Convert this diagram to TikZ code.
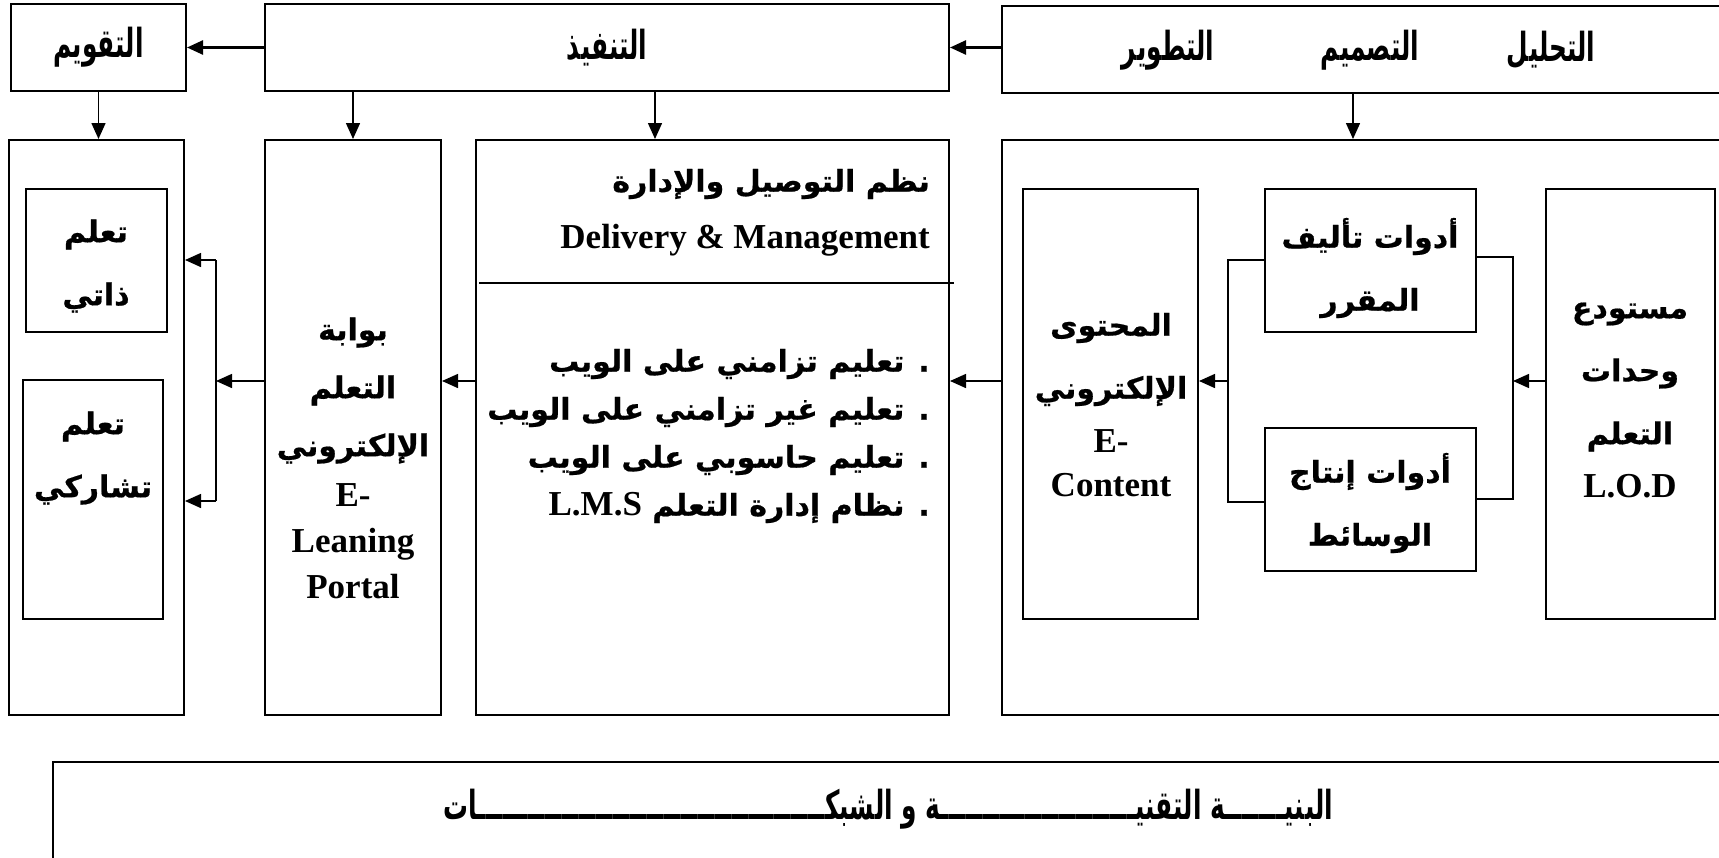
\documentclass[tikz,border=0pt]{standalone}
\usepackage{fontspec}
\setmainfont{Liberation Serif}
\newfontfamily\arabicfont[Script=Arabic,BoldFeatures={FakeBold=0.6}]{DejaVu Sans}
\newfontfamily\arabicnarrow[Script=Arabic,FakeStretch=0.62]{DejaVu Sans}
\TeXXeTstate=1
\usetikzlibrary{arrows.meta,fit}
\newcommand\ar[1]{{\arabicfont\bfseries\beginR #1\endR}}
\newcommand\arn[1]{{\arabicnarrow\bfseries\beginR #1\endR}}
\newcommand\lat[1]{{\fontsize{35}{46}\selectfont #1}}
\tikzset{
  box/.style={draw, line width=2pt, inner sep=0pt},
  conn/.style={line width=1.5pt},
  arr/.style={conn, -{Triangle[length=16pt,width=14pt]}},
  toparr/.style={arr, line width=2.5pt},
  txt/.style={align=center, inner sep=0pt, font=\fontsize{30}{63}\selectfont\bfseries},
  rtxt/.style={align=right, inner sep=0pt, anchor=east, font=\fontsize{30}{48}\selectfont\bfseries},
  toptxt/.style={inner sep=0pt, font=\fontsize{40}{42}\selectfont},
}
\begin{document}
\begin{tikzpicture}[x=1pt,y=-1pt]
\useasboundingbox (0,0) rectangle (1719,857);
\clip (0,0) rectangle (1719,857);
% top row
\node[box, fit={(11,4) (186,91)}] (T1) {};
\node[box, fit={(265,4) (949,91)}] (T2) {};
\node[box, fit={(1002,6) (1745,93)}] (T3) {};
% lower row
\node[box, fit={(9,140) (184,715)}] (L1) {};
\node[box, fit={(265,140) (441,715)}] (L2) {};
\node[box, fit={(476,140) (949,715)}] (L3) {};
\node[box, fit={(1002,140) (1745,715)}] (L4) {};
% inner boxes
\node[box, fit={(26,189) (167,332)}] (I1) {};
\node[box, fit={(23,380) (163,619)}] (I2) {};
\node[box, fit={(1023,189) (1198,619)}] (C) {};
\node[box, fit={(1265,189) (1476,332)}] (A) {};
\node[box, fit={(1265,428) (1476,571)}] (P) {};
\node[box, fit={(1546,189) (1715,619)}] (R) {};
% bottom
\node[box, fit={(53,762) (1745,875)}] (B) {};

% coordinates
\coordinate (mid) at (0,381);
\coordinate (d3) at (655,0);
\coordinate (d4) at (1353,0);
\coordinate (dl) at (479,283);
\coordinate (dr) at (954,283);
\coordinate (rb1) at (1513,257);
\coordinate (rb2) at (1513,499);
\coordinate (lb1) at (1228,260);
\coordinate (lb2) at (1228,502);
\coordinate (pb1) at (216,260);
\coordinate (pb2) at (216,501);

% divider in delivery box
\draw[line width=1.5pt] (dl) -- (dr);

% top arrows
\draw[toparr] (T3.west |- T2.east) -- (T2.east);
\draw[toparr] (T2.west) -- (T1.east);
\draw[arr] (T1.south) -- (T1.south |- L1.north);
\draw[arr] (L2.north |- T2.south) -- (L2.north);
\draw[arr] (T2.south -| d3) -- (L3.north -| d3);
\draw[arr] (T3.south -| d4) -- (L4.north -| d4);

% right bracket
\draw[conn] (A.east |- rb1) -- (rb1) -- (rb2) -- (P.east |- rb2);
\draw[arr] (R.west |- mid) -- (rb1 |- mid);
% left bracket
\draw[conn] (A.west |- lb1) -- (lb1) -- (lb2) -- (P.west |- lb2);
\draw[arr] (lb1 |- mid) -- (C.east |- mid);
% main flow
\draw[arr] (L4.west |- mid) -- (L3.east |- mid);
\draw[arr] (L3.west |- mid) -- (L2.east |- mid);
\draw[arr] (L2.west |- mid) -- (pb1 |- mid);
\draw[conn] (pb1) -- (pb2);
\draw[arr] (pb1) -- (L1.east |- pb1);
\draw[arr] (pb2) -- (L1.east |- pb2);

% top texts
\node[toptxt] (t1) at (T1.center) {\arn{التقويم}};
\node[toptxt] (t2) at (T2.center) {\arn{التنفيذ}};
\node[toptxt] (t3a) at (1551,50) {\arn{التحليل}};
\node[toptxt] (t3b) at (1370,50) {\arn{التصميم}};
\node[toptxt] (t3c) at (1168,50) {\arn{التطوير}};

% lower texts
\node[txt] (x1) at (96,266) {\ar{تعلم}\\\ar{ذاتي}};
\node[txt] (x2) at (93,458) {\ar{تعلم}\\\ar{تشاركي}};
\node[txt, font=\fontsize{30}{58}\selectfont\bfseries] (x3) at (353,458) {\ar{بوابة}\\\ar{التعلم}\\\ar{الإلكتروني}\\[-8pt]\lat{E-}\\[-12pt]\lat{Leaning}\\[-12pt]\lat{Portal}};
\node[txt] (x4) at (1111,405) {\ar{المحتوى}\\\ar{الإلكتروني}\\[-9pt]\lat{E-}\\[-19pt]\lat{Content}};
\node[txt] (x5) at (1370,268) {\ar{أدوات تأليف}\\\ar{المقرر}};
\node[txt] (x6) at (1370,503) {\ar{أدوات إنتاج}\\\ar{الوسائط}};
\node[txt] (x7) at (1630,400) {\ar{مستودع}\\\ar{وحدات}\\\ar{التعلم}\\[-10pt]\lat{L.O.D}};

% delivery box texts
\node[rtxt] (h1) at (930,184) {\ar{نظم التوصيل والإدارة}};
\node[rtxt, font=\fontsize{35}{46}\selectfont\bfseries] (h2) at (930,240) {Delivery \& Management};
\node[rtxt] (h3) at (930,436) {\ar{. تعليم تزامني على الويب}\\\ar{. تعليم غير تزامني على الويب}\\\ar{. تعليم حاسوبي على الويب}\\\ar{. نظام إدارة التعلم \beginL{\fontsize{35}{46}\selectfont\rmfamily L.M.S}\endL}};

% bottom text
\node[toptxt] (bt) at (888,809) {\arn{البنيـــــــة التقنيـــــــــــــــــــــــة و الشبكـــــــــــــــــــــــــــــــــــــــــات}};
\end{tikzpicture}
\end{document}
